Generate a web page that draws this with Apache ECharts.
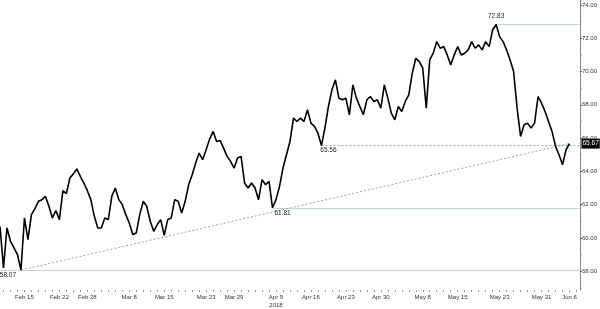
<!DOCTYPE html>
<html><head><meta charset="utf-8">
<script src="https://cdn.jsdelivr.net/npm/echarts@6/dist/echarts.min.js"></script>
<style>html,body{margin:0;padding:0;background:#fff}#c{width:600px;height:309px}</style>
</head><body><div id="c"></div>
<script>
// ---- categories (trading sessions, two per day) ----
const monthNames = ['Jan','Feb','Mar','Apr','May','Jun','Jul','Aug','Sep','Oct','Nov','Dec'];
const firstDay = '2018-02-09';
const lastDay = '2018-06-07';
const holidays = ['2018-03-30'];
const tickLabelDays = ['Feb 15','Feb 22','Feb 28','Mar 8','Mar 15','Mar 23','Mar 29','Apr 9','Apr 16','Apr 23','Apr 30','May 8','May 15','May 23','May 31','Jun 6'];
const yearLabelDay = 'Apr 9';
const yearLabel = '2018';

// ---- price series (one value per half-day session) ----
const prices = [
60.69,58.2,60.6,59.8,59.4,59.0,58.07,61.2,59.9,61.4,
61.76,62.2,62.3,62.5,61.9,61.2,61.64,61.1,62.84,62.66,
63.6,63.85,64.15,63.7,63.3,62.84,62.3,61.3,60.6,60.6,
61.2,61.1,62.5,63.0,62.3,62.0,61.4,60.9,60.2,60.3,
61.4,62.2,61.9,61.0,60.4,60.8,61.1,60.15,61.1,61.2,
62.3,62.2,61.5,62.2,63.2,63.8,64.5,65.1,64.7,65.3,
65.94,66.4,65.8,65.85,65.4,64.9,64.6,64.2,64.8,64.9,
63.3,63.0,63.3,63.0,62.3,63.5,63.2,63.4,61.81,62.3,
63.1,64.2,65.0,65.8,67.2,67.0,67.2,67.0,67.7,66.9,
66.7,66.3,65.56,66.6,67.9,68.9,69.5,68.4,68.3,68.4,
67.4,69.2,68.4,67.9,67.4,68.3,68.5,68.2,68.3,67.8,
69.2,68.4,67.5,67.1,67.9,67.6,68.2,68.6,69.9,70.8,
70.6,70.2,67.8,70.7,71.1,71.8,71.4,71.5,71.0,70.4,
71.0,71.5,71.0,71.1,71.3,71.8,71.4,71.6,71.3,71.8,
71.5,72.5,72.83,72.1,71.8,71.3,70.7,70.0,67.8,66.1,
66.8,66.9,66.6,66.9,68.5,68.1,67.6,67.0,66.4,65.5,
65.0,64.4,65.3,65.67
];
const annotatedLows = [61.81, 65.56];

// ---- y axis ----
const yMin = 56.87, yMax = 74.3;
const yTickValues = [58,60,62,64,66,68,70,72,74];
const yMinorTickValues = [57,59,61,63,65,67,69,71,73];

// build categories
const categories = [];
(function(){
  const d = new Date(firstDay + 'T00:00:00Z');
  const end = new Date(lastDay + 'T00:00:00Z');
  let first = true;
  while (d <= end) {
    const iso = d.toISOString().slice(0,10);
    const wd = d.getUTCDay();
    if (wd !== 0 && wd !== 6 && holidays.indexOf(iso) < 0) {
      const name = monthNames[d.getUTCMonth()] + ' ' + d.getUTCDate();
      if (!first) categories.push(name + ' AM');
      categories.push(name + ' PM');
      first = false;
    }
    d.setUTCDate(d.getUTCDate() + 1);
  }
})();

const lastIdx = prices.length - 1;
const lastVal = prices[lastIdx];
const lowVal = Math.min.apply(null, prices);
const lowIdx = prices.indexOf(lowVal);
const peakVal = Math.max.apply(null, prices);
const peakIdx = prices.indexOf(peakVal);
const supIdx = prices.indexOf(annotatedLows[0]);
const neckIdx = prices.indexOf(annotatedLows[1]);
const endIdx = categories.length - 1;

const levelColor = '#bcd9d3';
const dashColor = '#8fa9a7';
const FONT = 'Liberation Sans, Arial, sans-serif';
const lblStyle = {show:true, color:'#222', fontSize:6.5, fontFamily:FONT};

const chart = echarts.init(document.getElementById('c'), null, {renderer:'canvas'});
chart.setOption({
  animation: false,
  backgroundColor: '#fff',
  grid: {left: 0, right: 19, top: 0, bottom: 17, containLabel: false},
  xAxis: {
    type: 'category',
    data: categories,
    boundaryGap: false,
    axisLine: {show: false},
    axisTick: {show: true, length: 2, lineStyle: {color: '#999'},
      interval: function(i, v){ return / AM$/.test(v); }},
    axisLabel: {
      show: true, fontSize: 6, color: '#333', margin: 3, lineHeight: 8,
      fontFamily: FONT,
      interval: function(i, v){ return / AM$/.test(v) && tickLabelDays.indexOf(v.slice(0,-3)) >= 0; },
      formatter: function(v){ const d = v.slice(0,-3); return d === yearLabelDay ? d + '\n' + yearLabel : d; }
    },
    splitLine: {show: false}
  },
  yAxis: [{
    type: 'value', position: 'right', min: yMin, max: yMax, scale: true,
    axisLine: {show: true, lineStyle: {color: '#888', width: 1}},
    axisTick: {show: true, length: 2, customValues: yTickValues, lineStyle: {color: '#666'}},
    axisLabel: {show: true, customValues: yTickValues, fontSize: 6, color: '#333', margin: 2,
      fontFamily: FONT,
      formatter: function(v){ return v.toFixed(2); }},
    splitLine: {show: false}
  },{
    type: 'value', position: 'right', min: yMin, max: yMax, scale: true,
    axisLine: {show: false},
    axisTick: {show: true, length: 2, customValues: yMinorTickValues, lineStyle: {color: '#aaa'}},
    axisLabel: {show: false},
    splitLine: {show: false}
  }],
  series: [{
    type: 'line',
    data: prices,
    symbol: 'none',
    lineStyle: {color: '#000', width: 1.6},
    z: 3,
    markLine: {
      silent: true, symbol: ['none','none'], animation: false, z: 2,
      label: {show: false},
      data: [
        [{coord:[0, lowVal], lineStyle:{color: levelColor, width:1, type:'solid'}}, {coord:[endIdx, lowVal]}],
        [{coord:[supIdx, annotatedLows[0]], lineStyle:{color: levelColor, width:1, type:'solid'}}, {coord:[endIdx, annotatedLows[0]]}],
        [{coord:[peakIdx, peakVal], lineStyle:{color: levelColor, width:1, type:'solid'}}, {coord:[endIdx, peakVal]}],
        [{coord:[neckIdx, annotatedLows[1]], lineStyle:{color: dashColor, width:1, type:[2,2]}}, {coord:[endIdx, annotatedLows[1]]}],
        [{coord:[lowIdx, lowVal], lineStyle:{color: dashColor, width:1, type:[2,2]}}, {coord:[lastIdx, lastVal]}]
      ]
    },
    markPoint: {
      silent: true, animation: false, symbol: 'circle', symbolSize: 1,
      itemStyle: {color: 'rgba(0,0,0,0)'},
      z: 20,
      data: [
        {coord:[lowIdx, lowVal], label: Object.assign({}, lblStyle, {position:'inside', offset:[-13,5], formatter: lowVal.toFixed(2)})},
        {coord:[supIdx, annotatedLows[0]], label: Object.assign({}, lblStyle, {position:'inside', offset:[10,5], formatter: annotatedLows[0].toFixed(2)})},
        {coord:[neckIdx, annotatedLows[1]], label: Object.assign({}, lblStyle, {position:'inside', offset:[7,5], formatter: annotatedLows[1].toFixed(2)})},
        {coord:[peakIdx, peakVal], label: Object.assign({}, lblStyle, {position:'inside', offset:[0,-8], formatter: peakVal.toFixed(2)})},
        {coord:[endIdx, lastVal], label: {show:true, position:'right', distance:1, formatter: lastVal.toFixed(2),
          backgroundColor:'#000', color:'#fff', fontSize:6.5, padding:[2,1,1,1], fontFamily:FONT}}
      ]
    }
  }]
});
</script></body></html>
